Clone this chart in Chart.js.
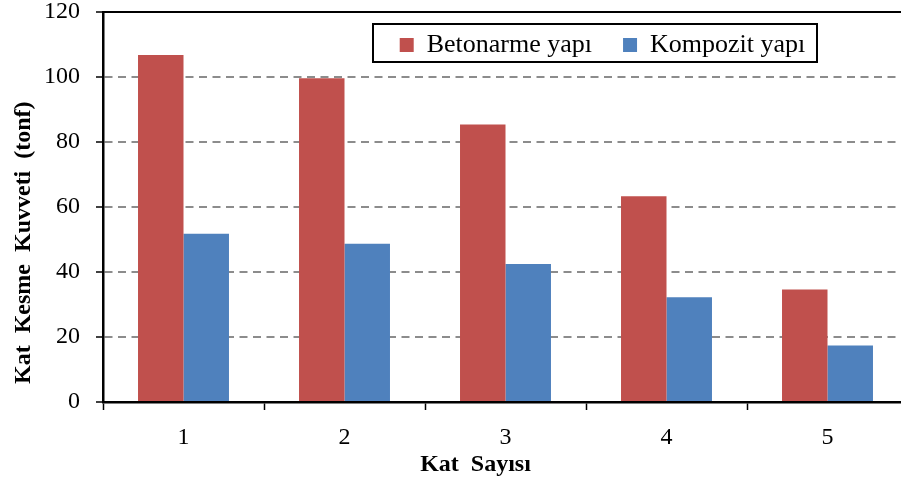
<!DOCTYPE html>
<html><head><meta charset="utf-8">
<script src="https://cdn.jsdelivr.net/npm/chart.js@4/dist/chart.umd.min.js"></script>
<style>html,body{margin:0;padding:0;background:#fff;overflow:hidden;width:901px;height:484px}</style>
</head><body>
<canvas id="c" width="910" height="484"></canvas>
<script>
const categories = ['1', '2', '3', '4', '5'];
const seriesNames = ['Betonarme yapı', 'Kompozit yapı'];
const betonarme = [106.8, 99.6, 85.4, 63.3, 34.6];
const kompozit = [51.8, 48.7, 42.5, 32.2, 17.4];
const yMin = 0, yMax = 120, yStep = 20;
const xTitle = 'Kat  Sayısı          ';
const yTitle = '   Kat  Kesme  Kuvveti  (tonf)';

const FONT = 'Liberation Serif, Times New Roman, serif';

const legendFrame = {
  id: 'legendFrame',
  beforeLayout(chart) {
    if (chart.legend) chart.legend.isHorizontal = () => true;
  },
  beforeDraw(chart) {
    const lg = chart.legend;
    if (!lg) return;
    lg.left = 355; lg.right = 850; lg.top = 1; lg.bottom = 62;
  },
  afterDraw(chart) {
    const ctx = chart.ctx;
    ctx.save();
    ctx.strokeStyle = '#000';
    ctx.lineWidth = 2;
    ctx.strokeRect(373, 24, 444, 38);
    ctx.restore();
  }
};

new Chart(document.getElementById('c'), {
  type: 'bar',
  data: {
    labels: categories,
    datasets: [
      { label: seriesNames[0], data: betonarme, backgroundColor: '#C0504D', borderWidth: 0 },
      { label: seriesNames[1], data: kompozit, backgroundColor: '#4F81BD', borderWidth: 0 }
    ]
  },
  options: {
    responsive: false,
    animation: false,
    devicePixelRatio: 1,
    layout: { padding: { left: 0, top: 12, right: 2, bottom: 0 } },
    datasets: { bar: { categoryPercentage: 0.565, barPercentage: 1.0 } },
    plugins: {
      tooltip: { enabled: false },
      legend: {
        position: 'chartArea',
        align: 'center',
        labels: {
          color: '#000',
          font: { family: FONT, size: 26 },
          boxWidth: 14, boxHeight: 14, padding: 31
        }
      }
    },
    scales: {
      x: {
        type: 'category',
        position: 'bottom',
        offset: true,
        grid: { display: true, drawOnChartArea: false, drawTicks: true, tickLength: 8, tickColor: '#000', tickWidth: 1.5, offset: true },
        border: { display: true, color: '#000', width: 2.5 },
        ticks: { color: '#000', font: { family: FONT, size: 24 }, padding: 13, maxRotation: 0 },
        title: { display: true, text: xTitle, color: '#000', font: { family: FONT, size: 24, weight: 'bold' }, padding: { top: 0, bottom: 5 } },
        afterFit(s) { s.height = 82; s.paddingLeft = 0; s.paddingRight = 0; }
      },
      xTop: {
        type: 'category',
        axis: 'x',
        position: 'top',
        offset: true,
        grid: { display: false, drawTicks: false },
        border: { display: true, color: '#000', width: 2 },
        ticks: { display: false },
        afterFit(s) { s.height = 0; s.paddingLeft = 0; s.paddingRight = 0; }
      },
      y: {
        type: 'linear',
        position: 'left',
        min: yMin, max: yMax,
        grid: {
          display: true,
          drawTicks: true,
          tickLength: 7,
          lineWidth: 2,
          color: (ctx) => (ctx.tick && (ctx.tick.value === yMin || ctx.tick.value === yMax)) ? 'rgba(0,0,0,0)' : '#8c8c8c',
          tickColor: '#000',
          tickWidth: 1.5,
          tickBorderDash: []
        },
        border: { display: true, color: '#000', width: 2.5, dash: [8, 5.5] },
        ticks: { stepSize: yStep, color: '#000', font: { family: FONT, size: 24 }, padding: 16 },
        title: { display: true, text: yTitle, align: 'start', color: '#000', font: { family: FONT, size: 24, weight: 'bold' }, padding: { top: 9, bottom: 0 } },
        afterFit(s) { s.width = 103; s.paddingTop = 0; s.paddingBottom = 0; }
      }
    }
  },
  plugins: [legendFrame]
});
</script>
</body></html>
